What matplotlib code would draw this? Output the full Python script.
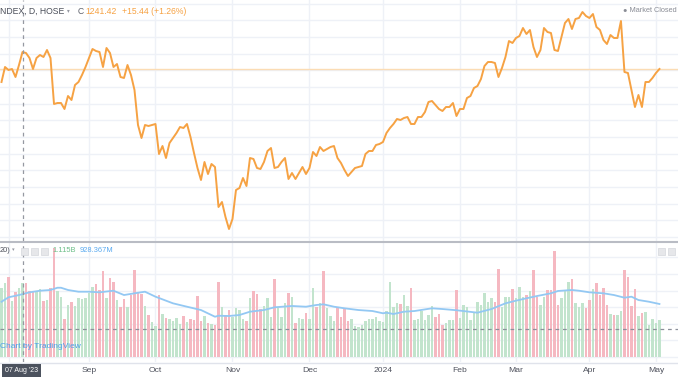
import matplotlib
matplotlib.use("Agg")
import matplotlib.pyplot as plt
import numpy as np
from matplotlib.patches import Rectangle
from matplotlib.lines import Line2D
from matplotlib.transforms import blended_transform_factory

# daily closes, Jul 28 2023 .. May 2024 (one value per trading day)
close = [
    1225.8, 1243.8, 1240.2, 1241.4, 1231.8, 1246.2, 1261.8, 1260.6, 1254.6, 1241.4,
    1254.6, 1258.2, 1255.8, 1264.2, 1254.6, 1199.4, 1200.6, 1200.6, 1193.4, 1209.0,
    1204.2, 1222.2, 1225.8, 1234.2, 1243.8, 1254.6, 1265.4, 1263.0, 1261.8, 1243.8,
    1266.6, 1260.6, 1243.8, 1247.4, 1231.8, 1230.6, 1246.2, 1234.2, 1216.2, 1174.2,
    1158.6, 1174.2, 1173.0, 1174.2, 1175.4, 1139.4, 1149.0, 1134.6, 1152.6, 1158.6,
    1164.6, 1171.8, 1170.6, 1175.4, 1159.8, 1140.6, 1122.6, 1108.2, 1129.8, 1115.4,
    1127.4, 1123.8, 1075.8, 1081.8, 1063.8, 1049.4, 1061.4, 1096.2, 1098.6, 1110.6,
    1101.0, 1134.6, 1133.4, 1122.6, 1121.4, 1129.8, 1143.0, 1146.6, 1122.6, 1123.8,
    1129.8, 1134.6, 1109.4, 1116.6, 1109.4, 1116.6, 1123.8, 1115.4, 1122.6, 1141.8,
    1137.0, 1147.8, 1143.0, 1145.4, 1147.8, 1149.0, 1134.6, 1128.6, 1120.2, 1113.0,
    1117.8, 1122.6, 1123.8, 1125.0, 1139.4, 1143.0, 1143.0, 1150.2, 1151.4, 1153.8,
    1164.6, 1170.6, 1175.4, 1181.4, 1180.2, 1182.6, 1183.8, 1175.4, 1175.4, 1183.8,
    1183.8, 1189.8, 1201.8, 1203.0, 1198.2, 1193.4, 1191.0, 1195.8, 1195.8, 1200.6,
    1185.0, 1193.4, 1193.4, 1206.6, 1209.0, 1218.6, 1221.0, 1229.4, 1245.0, 1249.8,
    1249.8, 1248.6, 1231.8, 1242.6, 1255.8, 1275.0, 1272.6, 1278.6, 1281.0, 1290.6,
    1283.4, 1288.2, 1267.8, 1255.8, 1264.2, 1290.6, 1285.8, 1284.6, 1264.2, 1263.0,
    1279.8, 1296.6, 1301.4, 1289.4, 1301.4, 1302.6, 1309.8, 1305.0, 1302.6, 1307.4,
    1291.8, 1288.2, 1276.2, 1271.4, 1282.2, 1278.6, 1278.6, 1299.0, 1237.8, 1236.6,
    1216.2, 1195.8, 1210.2, 1195.8, 1225.8, 1225.8, 1230.6, 1236.6, 1241.42,
]

# volume, millions of shares
volume = [
    1035, 1120, 1201, 844, 975, 1035, 1115, 1111, 999, 984,
    975, 1025, 844, 859, 1044, 1638, 999, 909, 573, 784,
    824, 773, 894, 870, 885, 960, 1059, 1096, 1010, 1296,
    885, 1186, 1135, 859, 758, 870, 758, 934, 1311, 984,
    949, 773, 633, 532, 467, 934, 648, 583, 568, 543,
    583, 497, 618, 532, 577, 558, 924, 547, 618, 508,
    497, 482, 1126, 758, 633, 708, 603, 738, 708, 573,
    543, 885, 995, 945, 723, 769, 885, 598, 1175, 734,
    598, 809, 960, 900, 508, 592, 568, 668, 568, 1035,
    758, 818, 1296, 734, 618, 547, 758, 598, 734, 543,
    568, 467, 448, 482, 543, 568, 573, 607, 547, 523,
    693, 1135, 758, 818, 799, 934, 773, 1035, 558, 573,
    693, 558, 633, 769, 607, 643, 482, 508, 558, 558,
    1010, 592, 784, 758, 558, 683, 833, 784, 960, 833,
    885, 833, 1326, 758, 909, 909, 1020, 894, 1059, 909,
    934, 995, 1311, 909, 784, 909, 1010, 1010, 1602, 784,
    885, 1010, 1135, 1175, 809, 758, 809, 734, 859, 1020,
    1111, 934, 1035, 784, 643, 633, 633, 693, 1311, 1201,
    773, 1025, 618, 668, 683, 482, 573, 508, 558,
]

# 20-day volume MA, read at a subset of days
ma_idx = [0, 2, 5, 8, 11, 14, 16, 17, 19, 22, 25, 28, 32, 35, 38, 41, 44, 49, 53, 57,
          61, 62, 65, 68, 71, 75, 78, 83, 87, 90, 92, 95, 98, 102, 106, 109, 110, 112, 115, 118,
          123, 126, 130, 136, 140, 144, 147, 150, 153, 157, 159, 163, 165, 168, 172, 175, 178, 180, 182, 185,
          188]
ma_val = [833, 900, 934, 975, 999, 1010, 1044, 1044, 1010, 984, 984, 975, 999, 934, 960, 984, 909, 809, 758, 708,
          607, 622, 618, 633, 683, 708, 749, 769, 758, 784, 794, 758, 734, 708, 693, 659, 668, 648, 683, 693,
          734, 723, 705, 668, 723, 809, 849, 885, 919, 960, 995, 1010, 999, 975, 960, 934, 894, 909, 859, 833,
          799]

month_idx = [25, 44, 66, 88, 109, 131, 147, 168, 187]
month_lbl = ["Sep", "Oct", "Nov", "Dec", "2024", "Feb", "Mar", "Apr", "May"]
aug_idx = 2
cross_idx = 6  # 07 Aug '23

W, H = 678, 381
plt.rcParams['font.family'] = ['Liberation Sans', 'DejaVu Sans']
fig = plt.figure(figsize=(W / 100, H / 100), dpi=100)


def fx(px):
    return px / W


def fy(py):
    return 1 - py / H


ax = fig.add_axes([0, fy(241), 1, 241 / H])
vax = fig.add_axes([0, fy(362), 1, 120 / H])

x = np.arange(len(close))
grid_c = '#eef1f7'
for a in (ax, vax):
    a.set_xlim(-0.43, 193.3)
    a.set_xticks([])
    a.set_yticks([])
    for s in a.spines.values():
        s.set_visible(False)
    for m in [aug_idx] + month_idx:
        a.axvline(m, color=grid_c, lw=1, zorder=0)
    a.axvline(cross_idx, color='#9598a1', lw=0.9, ls=(0, (3, 3)), zorder=5)

# price pane
for g in range(1040, 1330, 20):
    ax.axhline(g, color=grid_c, lw=1, zorder=0)
ax.axhline(close[-1], color='#fbdcb4', lw=1, zorder=1)
ax.plot(x, close, color='#f6a243', lw=1.4, zorder=3)
ax.set_ylim(1035.0, 1324.2)

# volume pane
c = np.array(close)
up = np.r_[True, c[1:] >= c[:-1]]
colors = ['#c2e4cd' if u else '#f5b8c1' for u in up]
for g in range(0, 1750, 250):
    vax.axhline(g, color=grid_c, lw=1, zorder=0)
vax.bar(x, volume, width=0.76, color=colors, zorder=2)
vax.plot(ma_idx, ma_val, color='#93c8f3', lw=1.3, zorder=3)
vax.axhline(422, color='#8c909b', lw=0.9, ls=(0, (3, 3)), zorder=4)
vax.set_ylim(-75, 1733)

fig.add_artist(Line2D([0, 1], [fy(241.5)] * 2, color='#b9bcc4', lw=1.5))
fig.add_artist(Line2D([0, 1], [fy(362.5)] * 2, color='#e0e3eb', lw=1))

# time axis labels
tr = blended_transform_factory(vax.transData, fig.transFigure)
for m, lbl in zip(month_idx, month_lbl):
    vax.text(m, fy(371), lbl, transform=tr, ha='center', va='center',
             fontsize=6.1, color='#50535e', clip_on=False)
fig.text(fx(21.5), fy(370.5), "07 Aug '23", ha='center', va='center',
         fontsize=5, color='white', zorder=10,
         bbox=dict(boxstyle='square,pad=0.45', fc='#4c525e', ec='none'))

# header legend
hy = fy(11)
hs = 6.2
fig.text(fx(0), hy, "NDEX, D, HOSE", fontsize=hs, color='#4a4e59', va='center')
fig.text(fx(67), hy, "\u25be", fontsize=4, color='#9598a1', va='center')
fig.text(fx(78), hy, "C", fontsize=hs, color='#5d606b', va='center')
fig.text(fx(85), hy, "1241.42", fontsize=hs, color='#f6a243', va='center')
fig.text(fx(122), hy, "+15.44 (+1.26%)", fontsize=hs, color='#f6a243', va='center')
fig.text(fx(677), fy(10), "\u25cf Market Closed", fontsize=5.3, color='#8a8d96', va='center', ha='right')

# volume legend
vy = fy(250)
vs = 5.4
fig.text(fx(0), vy, "20)", fontsize=vs, color='#4a4e59', va='center')
fig.text(fx(12), vy, "\u25be", fontsize=3.8, color='#9598a1', va='center')
for bx in (21, 31, 41):
    fig.add_artist(Rectangle((fx(bx), fy(254.5)), 7 / W, 7 / H, fc='#e6e7ea', ec='#d5d7dc', lw=0.5))
fig.text(fx(52), vy, "1.115B", fontsize=vs, color='#6cbf88', va='center')
fig.text(fx(80), vy, "928.367M", fontsize=vs, color='#5aaaf0', va='center')
for bx in (658, 668):
    fig.add_artist(Rectangle((fx(bx), fy(254.5)), 7 / W, 7 / H, fc='#e6e7ea', ec='#d5d7dc', lw=0.5))

fig.text(fx(0), fy(346), "Chart by TradingView", fontsize=6, color='#4ba0ea', va='center')

fig.savefig("out.png", dpi=100, facecolor='white')
